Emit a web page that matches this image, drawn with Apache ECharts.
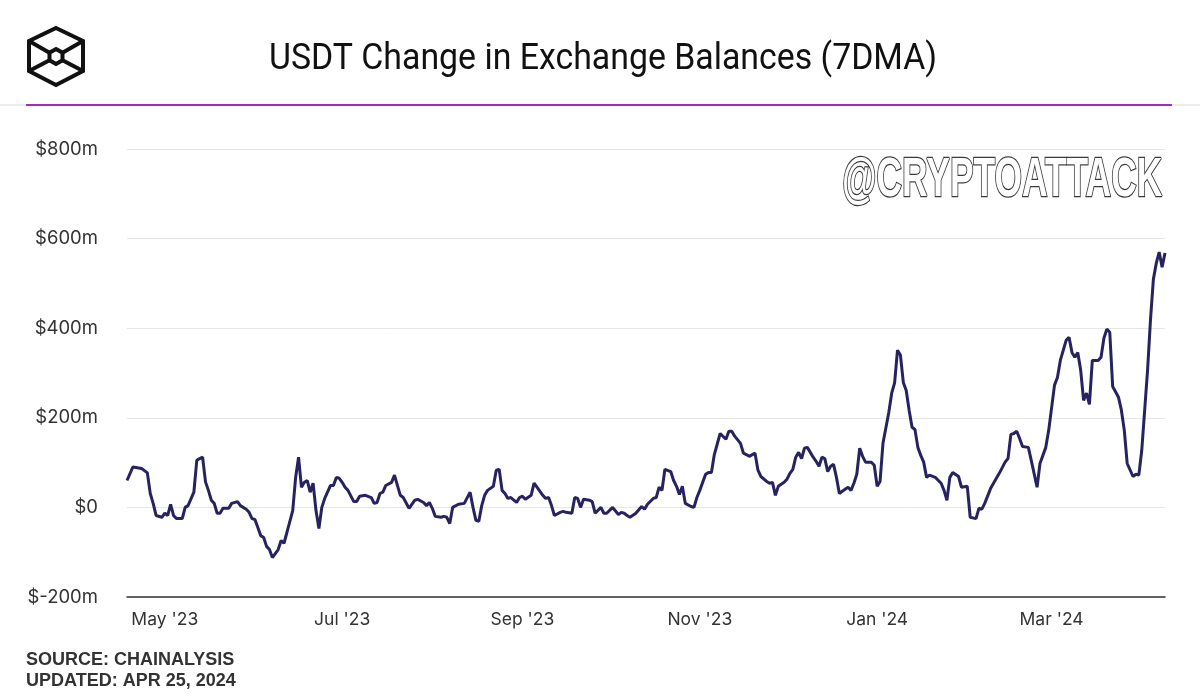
<!DOCTYPE html>
<html>
<head>
<meta charset="utf-8">
<title>USDT Change in Exchange Balances (7DMA)</title>
<script src="https://cdn.jsdelivr.net/npm/echarts@6/dist/echarts.min.js"></script>
<style>
  html, body { margin: 0; padding: 0; background: #fff; }
  #main { width: 1200px; height: 700px; }
</style>
</head>
<body>
<div id="main"></div>
<script>
// USDT net change in exchange balances, 7-day moving average, $m
const dates = [
  '2023-04-18','2023-04-20','2023-04-23','2023-04-25','2023-04-26','2023-04-27','2023-04-28','2023-04-30',
  '2023-05-01','2023-05-02','2023-05-03','2023-05-04','2023-05-05','2023-05-07','2023-05-08','2023-05-09',
  '2023-05-11','2023-05-12','2023-05-13','2023-05-14','2023-05-15','2023-05-16','2023-05-17','2023-05-18',
  '2023-05-19','2023-05-20','2023-05-21','2023-05-23','2023-05-24','2023-05-26','2023-05-27','2023-05-29',
  '2023-05-30','2023-05-31','2023-06-01','2023-06-02','2023-06-03','2023-06-04','2023-06-05','2023-06-06',
  '2023-06-07','2023-06-08','2023-06-09','2023-06-10','2023-06-11','2023-06-12','2023-06-14','2023-06-15',
  '2023-06-16','2023-06-17','2023-06-18','2023-06-19','2023-06-20','2023-06-21','2023-06-22','2023-06-23',
  '2023-06-24','2023-06-25','2023-06-27','2023-06-28','2023-06-29','2023-06-30','2023-07-01','2023-07-02',
  '2023-07-03','2023-07-05','2023-07-06','2023-07-07','2023-07-09','2023-07-11','2023-07-12','2023-07-13',
  '2023-07-14','2023-07-15','2023-07-16','2023-07-18','2023-07-19','2023-07-20','2023-07-21','2023-07-22',
  '2023-07-24','2023-07-26','2023-07-27','2023-07-29','2023-07-30','2023-07-31','2023-08-01','2023-08-02',
  '2023-08-04','2023-08-05','2023-08-06','2023-08-07','2023-08-08','2023-08-10','2023-08-12','2023-08-14',
  '2023-08-15','2023-08-16','2023-08-17','2023-08-18','2023-08-19','2023-08-20','2023-08-22','2023-08-23',
  '2023-08-24','2023-08-25','2023-08-26','2023-08-27','2023-08-28','2023-08-30','2023-08-31','2023-09-01',
  '2023-09-02','2023-09-04','2023-09-05','2023-09-06','2023-09-08','2023-09-09','2023-09-10','2023-09-11',
  '2023-09-12','2023-09-14','2023-09-15','2023-09-16','2023-09-18','2023-09-19','2023-09-20','2023-09-21',
  '2023-09-22','2023-09-24','2023-09-25','2023-09-26','2023-09-28','2023-09-29','2023-09-30','2023-10-02',
  '2023-10-04','2023-10-05','2023-10-06','2023-10-07','2023-10-08','2023-10-10','2023-10-12','2023-10-13',
  '2023-10-14','2023-10-16','2023-10-17','2023-10-18','2023-10-19','2023-10-20','2023-10-22','2023-10-23',
  '2023-10-24','2023-10-25','2023-10-26','2023-10-27','2023-10-29','2023-10-30','2023-10-31','2023-11-01',
  '2023-11-03','2023-11-04','2023-11-05','2023-11-06','2023-11-08','2023-11-10','2023-11-11','2023-11-12',
  '2023-11-13','2023-11-15','2023-11-16','2023-11-17','2023-11-18','2023-11-20','2023-11-21','2023-11-22',
  '2023-11-24','2023-11-25','2023-11-26','2023-11-27','2023-11-28','2023-11-30','2023-12-01','2023-12-02',
  '2023-12-03','2023-12-04','2023-12-05','2023-12-06','2023-12-07','2023-12-08','2023-12-10','2023-12-11',
  '2023-12-12','2023-12-13','2023-12-14','2023-12-15','2023-12-16','2023-12-17','2023-12-18','2023-12-19',
  '2023-12-20','2023-12-22','2023-12-23','2023-12-24','2023-12-25','2023-12-26','2023-12-27','2023-12-28',
  '2023-12-30','2023-12-31','2024-01-01','2024-01-02','2024-01-03','2024-01-05','2024-01-06','2024-01-07',
  '2024-01-08','2024-01-09','2024-01-10','2024-01-11','2024-01-12','2024-01-13','2024-01-14','2024-01-15',
  '2024-01-16','2024-01-17','2024-01-18','2024-01-19','2024-01-21','2024-01-23','2024-01-24','2024-01-25',
  '2024-01-26','2024-01-27','2024-01-29','2024-01-30','2024-02-01','2024-02-02','2024-02-04','2024-02-05',
  '2024-02-06','2024-02-07','2024-02-09','2024-02-11','2024-02-12','2024-02-14','2024-02-15','2024-02-16',
  '2024-02-17','2024-02-18','2024-02-19','2024-02-20','2024-02-22','2024-02-23','2024-02-25','2024-02-26',
  '2024-02-28','2024-02-29','2024-03-02','2024-03-03','2024-03-04','2024-03-06','2024-03-07','2024-03-08',
  '2024-03-09','2024-03-10','2024-03-11','2024-03-12','2024-03-13','2024-03-14','2024-03-15','2024-03-17',
  '2024-03-18','2024-03-19','2024-03-20','2024-03-21','2024-03-22','2024-03-24','2024-03-25','2024-03-26',
  '2024-03-27','2024-03-29','2024-03-30','2024-03-31','2024-04-01','2024-04-03','2024-04-04','2024-04-05',
  '2024-04-06','2024-04-07','2024-04-08','2024-04-09'
];
const balanceChange = [
  60, 90, 87, 77, 31, 9, -18, -22,
  -13, -18, 7, -18, -25, -25, 0, 4,
  34, 105, 109, 112, 57, 38, 16, 9,
  -13, -13, -2, -2, 9, 13, 4, -4,
  -11, -25, -27, -45, -63, -67, -87, -94,
  -112, -103, -94, -74, -80, -56, -7, 67,
  112, 45, 56, 60, 34, 54, -7, -47,
  0, 20, 49, 49, 67, 65, 56, 45,
  38, 13, 13, 25, 27, 22, 9, 11,
  31, 34, 49, 56, 72, 49, 27, 22,
  -2, 16, 18, 11, 4, 11, -2, -20,
  -22, -20, -22, -36, 0, 7, 9, 34,
  0, -29, -31, 4, 27, 38, 47, 83,
  85, 38, 31, 20, 22, 11, 22, 25,
  18, 27, 54, 45, 27, 20, 22, 4,
  -18, -11, -9, -11, -13, 22, 20, 0,
  18, 16, 13, -13, 0, -13, -13, 0,
  -16, -11, -13, -18, -22, -13, 2, -4,
  7, 20, 22, 45, 38, 85, 80, 60,
  47, 29, 47, 9, 2, 0, 22, 38,
  74, 78, 78, 118, 165, 152, 170, 170,
  159, 143, 121, 118, 114, 121, 83, 69,
  58, 54, 56, 27, 47, 56, 63, 76,
  85, 112, 123, 109, 132, 134, 112, 103,
  92, 112, 109, 80, 92, 96, 67, 31,
  36, 45, 38, 54, 74, 132, 114, 101,
  101, 94, 47, 58, 143, 212, 255, 278,
  351, 340, 279, 261, 217, 179, 174, 134,
  116, 101, 67, 72, 67, 54, 38, 16,
  67, 78, 69, 45, 47, -22, -25, -2,
  -4, 9, 42, 65, 76, 101, 109, 163,
  165, 170, 154, 136, 134, 105, 45, 98,
  134, 172, 273, 290, 328, 373, 380, 346,
  335, 346, 306, 239, 255, 230, 328, 328,
  335, 378, 398, 391, 270, 246, 217, 172,
  98, 69, 74, 72, 127, 306, 418, 509,
  545, 570, 536, 568
];
const yTicks = [-200, 0, 200, 400, 600, 800];
const monthNames = ['Jan', 'Feb', 'Mar', 'Apr', 'May', 'Jun', 'Jul', 'Aug', 'Sep', 'Oct', 'Nov', 'Dec'];
const xStart = '2023-04-18';
const xEnd = '2024-04-09';

const chart = echarts.init(document.getElementById('main'));

// small inner hexagon of the logo
const hexPts = (cx, cy, r) => {
  let pts = [];
  for (let i = 0; i < 6; i++) {
    let a = Math.PI / 180 * (60 * i - 90);
    pts.push([cx + r * Math.cos(a), cy + r * Math.sin(a)]);
  }
  return pts;
};
const inner = hexPts(56, 56.5, 7.5);
const logoLine = (x1, y1, p) => ({
  type: 'line',
  shape: { x1: x1, y1: y1, x2: p[0], y2: p[1] },
  style: { stroke: '#111', lineWidth: 4 }
});

chart.setOption({
  backgroundColor: '#fff',
  animation: false,
  grid: { left: 127, right: 35, top: 149, bottom: 103 },
  xAxis: {
    type: 'time',
    min: xStart,
    max: xEnd,
    splitNumber: 12,
    minInterval: 28 * 86400000,
    maxInterval: 31 * 86400000,
    axisLine: { show: true, onZero: false, lineStyle: { color: '#333', width: 1.5 } },
    axisTick: { show: false },
    splitLine: { show: false },
    axisLabel: {
      margin: 14,
      fontFamily: 'Inter',
      fontSize: 17.5,
      color: '#333',
      formatter: function (val) {
        const d = new Date(val);
        if (d.getDate() !== 1 || d.getMonth() % 2 !== 0) return '';
        return monthNames[d.getMonth()] + " '" + String(d.getFullYear()).slice(2);
      }
    }
  },
  yAxis: {
    type: 'value',
    min: yTicks[0],
    max: yTicks[yTicks.length - 1],
    interval: 200,
    axisLine: { show: false },
    axisTick: { show: false },
    splitLine: { lineStyle: { color: '#e6e6e6', width: 1 } },
    axisLabel: {
      margin: 29,
      fontFamily: 'Inter',
      fontSize: 18.5,
      color: '#333',
      formatter: v => v === 0 ? '$0' : '$' + v + 'm'
    }
  },
  series: [{
    type: 'line',
    data: dates.map((d, i) => [d, balanceChange[i]]),
    showSymbol: false,
    lineStyle: { color: '#272260', width: 3 },
    itemStyle: { color: '#272260' }
  }],
  graphic: [
    { type: 'line', shape: { x1: 0, y1: 105, x2: 1200, y2: 105 }, style: { stroke: '#d8d8d8', lineWidth: 1 } },
    { type: 'line', shape: { x1: 26, y1: 105, x2: 1172, y2: 105 }, style: { stroke: '#a22bc4', lineWidth: 2 } },
    {
      type: 'text',
      x: 603,
      y: 59.5,
      scaleX: 0.94,
      style: {
        text: 'USDT Change in Exchange Balances (7DMA)',
        font: '36px Roboto',
        fill: '#111',
        align: 'center',
        verticalAlign: 'middle'
      }
    },
    {
      type: 'polygon',
      shape: { points: [[56, 28], [83, 41], [83, 71], [56, 85], [29, 71], [29, 41]] },
      style: { fill: 'none', stroke: '#111', lineWidth: 4, lineJoin: 'miter' }
    },
    { type: 'polygon', shape: { points: inner }, style: { fill: 'none', stroke: '#111', lineWidth: 4 } },
    logoLine(29, 41, inner[5]),
    logoLine(83, 41, inner[1]),
    logoLine(29, 71, inner[4]),
    logoLine(83, 71, inner[2]),
    {
      type: 'text',
      x: 842,
      y: 181,
      scaleX: 0.632,
      z: 10,
      style: {
        text: '@CRYPTOATTACK',
        font: 'bold 56px "Liberation Sans", sans-serif',
        fill: '#fff',
        stroke: '#3a3a3a',
        lineWidth: 2.5,
        verticalAlign: 'middle',
        shadowColor: 'rgba(0,0,0,0.4)',
        shadowOffsetX: 3,
        shadowOffsetY: 4,
        shadowBlur: 1
      }
    },
    {
      type: 'text',
      left: 26,
      top: 650,
      style: {
        text: 'SOURCE: CHAINALYSIS\nUPDATED: APR 25, 2024',
        font: 'bold 18px "Liberation Sans", Arial, sans-serif',
        lineHeight: 21,
        fill: '#333'
      }
    }
  ]
});

window.onresize = function () {
  chart.resize();
};
</script>
</body>
</html>
